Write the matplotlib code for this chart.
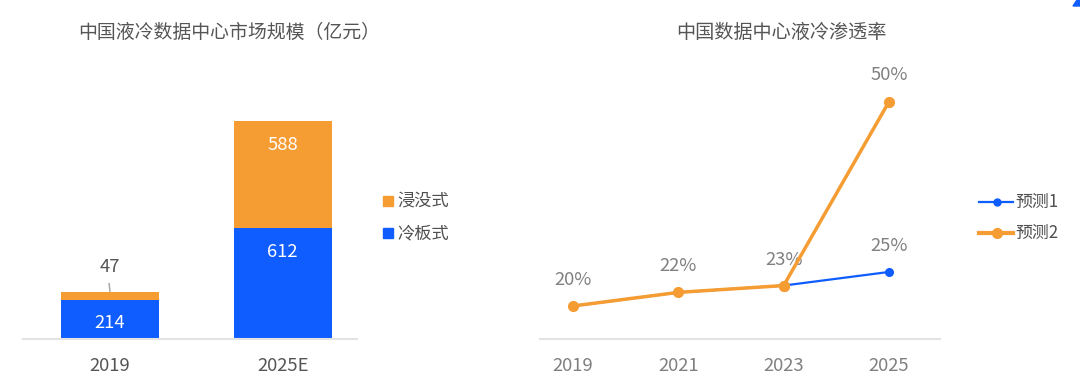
import matplotlib
matplotlib.use("Agg")
import matplotlib.pyplot as plt
from matplotlib.patches import Rectangle, Polygon
from matplotlib.lines import Line2D

plt.rcParams['font.family'] = ['Noto Sans CJK SC', 'DejaVu Sans']

# market size (亿元)
bar_cats = ["2019", "2025E"]
cold_plate = [214, 612]     # 冷板式
immersion = [47, 588]       # 浸没式

# penetration rate (%)
years = ["2019", "2021", "2023", "2025"]
forecast1 = [20, 22, 23, 25]
forecast2 = [20, 22, 23, 50]

BLUE = "#0F5CFF"
ORANGE = "#F59C33"
W, H = 1080, 392

fig = plt.figure(figsize=(W / 100, H / 100), dpi=100)


def px_axes(x0, x1, ytop, ybot):
    return fig.add_axes([x0 / W, 1 - ybot / H, (x1 - x0) / W, (ybot - ytop) / H])


def clean(ax):
    for s in ["top", "right", "left"]:
        ax.spines[s].set_visible(False)
    ax.spines["bottom"].set_color("#e3e3e3")
    ax.spines["bottom"].set_linewidth(1.5)
    ax.set_yticks([])
    ax.tick_params(axis="x", length=0, pad=13)


# ---- left: stacked bars
ax1 = px_axes(23, 357, 60, 339.3)
clean(ax1)
xpos = list(range(len(bar_cats)))
ax1.bar(xpos, cold_plate, width=0.57, color=BLUE)
ax1.bar(xpos, immersion, width=0.57, bottom=cold_plate, color=ORANGE)
ax1.set_xlim(-0.504, 1.43)
ax1.set_ylim(0, 1537)
ax1.set_xticks(xpos)
ax1.set_xticklabels(bar_cats, fontsize=13.3, color="#555555")

ax1.annotate(str(cold_plate[0]), (0, cold_plate[0] / 2), xytext=(0, -3),
             textcoords="offset pixels", ha="center", va="center",
             fontsize=13.3, color="white")
ax1.annotate(str(cold_plate[1]), (1, cold_plate[1]), xytext=(0, -24),
             textcoords="offset pixels", ha="center", va="center",
             fontsize=13.3, color="white")
ax1.annotate(str(immersion[1]), (1, cold_plate[1] + immersion[1]), xytext=(0, -24),
             textcoords="offset pixels", ha="center", va="center",
             fontsize=13.3, color="white")
top0 = cold_plate[0] + immersion[0]
ax1.annotate(str(immersion[0]), (0, top0), xytext=(0, 25),
             textcoords="offset pixels", ha="center", va="center",
             fontsize=13.3, color="#555555")
ax1.plot([0, -0.006], [top0, top0 + 9 * 1537 / 279.3], color="#a8a8a8", lw=1.1,
         solid_capstyle="butt", zorder=3)

fig.text(229.5 / W, 1 - 32 / H, "中国液冷数据中心市场规模（亿元）",
         ha="center", va="center", fontsize=13.6, color="#555555")

# bar legend
for yc, col, lab in [(201, ORANGE, "浸没式"), (233, BLUE, "冷板式")]:
    fig.patches.append(Rectangle((383 / W, 1 - (yc + 5) / H), 10 / W, 10 / H,
                                 transform=fig.transFigure, color=col))
    fig.text(397 / W, 1 - yc / H, lab, ha="left", va="center",
             fontsize=12.4, color="#505050")

# ---- right: penetration lines
ax2 = px_axes(540, 940, 60, 339.3)
clean(ax2)
lx = list(range(len(years)))
ax2.plot(lx, forecast1, color=BLUE, lw=1.6, marker="o", ms=5.5, zorder=3)
ax2.plot(lx[:3], forecast2[:3], color=ORANGE, lw=2.5, marker="o", ms=7, zorder=4)
ax2.plot(lx[2:], forecast2[2:], color=ORANGE, lw=2.5, marker="o", ms=7, zorder=4)
ax2.set_xlim(-0.313, 3.484)
ax2.set_ylim(15.11, 56.12)
ax2.set_xticks(lx)
ax2.set_xticklabels(years, fontsize=13.3, color="#808080")

for i, v in enumerate(forecast1):
    ax2.annotate(f"{v}%", (i, v), xytext=(0, 26), textcoords="offset pixels",
                 ha="center", va="center", fontsize=13.3, color="#808080")
ax2.annotate(f"{forecast2[-1]}%", (3, forecast2[-1]), xytext=(0, 27),
             textcoords="offset pixels", ha="center", va="center",
             fontsize=13.3, color="#808080")

fig.text(781.7 / W, 1 - 32 / H, "中国数据中心液冷渗透率",
         ha="center", va="center", fontsize=13.8, color="#555555")

# line legend
for yc, col, lw, ms, lab in [(201.5, BLUE, 1.6, 5, "预测1"), (233, ORANGE, 3, 7, "预测2")]:
    fig.lines.append(Line2D([979 / W, 1013 / W], [1 - yc / H, 1 - yc / H],
                            transform=fig.transFigure, color=col, lw=lw))
    fig.lines.append(Line2D([997 / W], [1 - yc / H], transform=fig.transFigure,
                            color=col, marker="o", ms=ms))
    fig.text(1015 / W, 1 - yc / H, lab, ha="left", va="center",
             fontsize=12.2, color="#505050")

# small blue corner mark from the original crop
fig.patches.append(Polygon([(1073 / W, 1 - 6 / H), (1077 / W, 1.0), (1080 / W, 1.0),
                            (1080 / W, 1 - 6 / H)], closed=True,
                           transform=fig.transFigure, color=BLUE))

fig.savefig("out.png", dpi=100)
